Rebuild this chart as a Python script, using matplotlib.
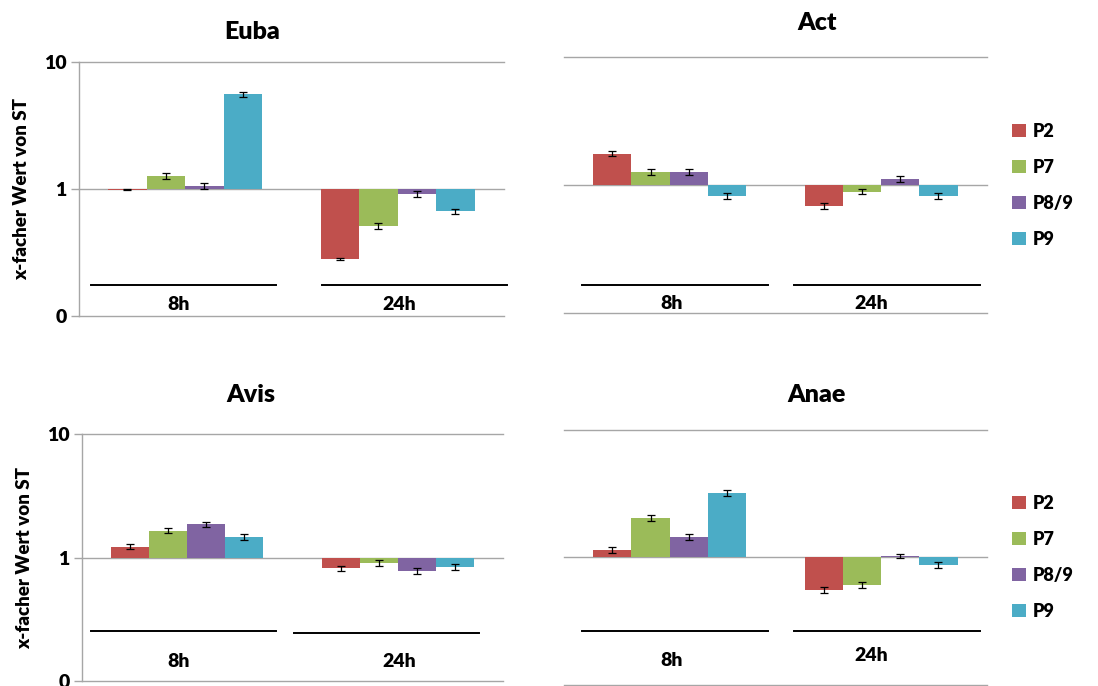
import numpy as np
import matplotlib
matplotlib.use("Agg")
import matplotlib.pyplot as plt
from matplotlib.patches import Patch

plt.rcParams['font.family'] = ['Lato', 'DejaVu Sans']
plt.rcParams['font.weight'] = 'heavy'

# ---------- data ----------
zeitpunkte = ['8h', '24h']
proben = ['P2', 'P7', 'P8/9', 'P9']
farben = ['#C0504D', '#9BBB59', '#8064A2', '#4BACC6']

# x-fach Werte relativ zu ST, je Probe: [8h, 24h]
euba = [[0.99, 0.28], [1.27, 0.51], [1.06, 0.91], [5.6, 0.67]]
euba_err = [[0.01, 0.006], [0.07, 0.027], [0.05, 0.05], [0.27, 0.03]]

act = [[1.76, 0.69], [1.26, 0.89], [1.26, 1.12], [0.82, 0.82]]
act_err = [[0.08, 0.037], [0.065, 0.04], [0.07, 0.065], [0.04, 0.04]]

avis = [[1.23, 0.82], [1.66, 0.906], [1.86, 0.785], [1.47, 0.84]]
avis_err = [[0.065, 0.043], [0.085, 0.05], [0.09, 0.043], [0.075, 0.04]]

anae = [[1.14, 0.556], [2.04, 0.61], [1.45, 1.02], [3.21, 0.87]]
anae_err = [[0.06, 0.03], [0.11, 0.033], [0.07, 0.04], [0.16, 0.045]]

ytick_werte = [0.1, 1, 10]
ytick_text = ['0', '1', '10']

# ---------- layout ----------
fig = plt.figure(figsize=(10.98, 6.86), dpi=100)

# [left, bottom, width, height], Titelposition, Klammern, Labelpositionen
panels = [
    dict(name='Euba', werte=euba, err=euba_err, rect=[0.0719, 0.5394, 0.387, 0.370],
         titel=(252, 32), achse=True, legende=False,
         klammern=[(0.028, 0.464, 0.122), (0.572, 1.007, 0.122)],
         labels=[(0.235, 0.047), (0.753, 0.047)]),
    dict(name='Act', werte=act, err=act_err, rect=[0.5137, 0.5437, 0.385, 0.373],
         titel=(817, 23), achse=False, legende=True,
         klammern=[(0.043, 0.482, 0.109), (0.544, 0.983, 0.109)],
         labels=[(0.255, 0.037), (0.726, 0.037)]),
    dict(name='Avis', werte=avis, err=avis_err, rect=[0.0747, 0.0073, 0.3834, 0.3596],
         titel=(251, 395), achse=True, legende=False,
         klammern=[(0.021, 0.461, 0.204), (0.504, 0.943, 0.195)],
         labels=[(0.230, 0.077), (0.753, 0.077)]),
    dict(name='Anae', werte=anae, err=anae_err, rect=[0.5137, 0.0015, 0.385, 0.372],
         titel=(817, 395), achse=False, legende=True,
         klammern=[(0.043, 0.482, 0.213), (0.544, 0.983, 0.213)],
         labels=[(0.255, 0.094), (0.726, 0.114)]),
]

W, H = 1098, 686
breite = 0.181
x = np.arange(len(zeitpunkte))
grau = '#A6A6A6'

for p in panels:
    ax = fig.add_axes(p['rect'])
    ax.set_yscale('log')
    ax.set_ylim(0.1, 10)
    ax.set_xlim(-0.5, len(zeitpunkte) - 0.5)

    for i, probe in enumerate(proben):
        v = np.array(p['werte'][i])
        e = np.array(p['err'][i])
        pos = x + (i - 1.5) * breite
        # Balken starten bei 1 (Wert von ST)
        ax.bar(pos, v - 1, bottom=1, width=breite, color=farben[i], zorder=2)
        ax.errorbar(pos, v, yerr=e, fmt='none', ecolor='black', elinewidth=0.9,
                    capsize=3, capthick=0.9, zorder=3)

    # Gitterlinien bei 0.1, 1 und 10
    for y in ytick_werte:
        ax.axhline(y, color=grau, lw=1, zorder=1, clip_on=False)

    for s in ['top', 'right', 'bottom']:
        ax.spines[s].set_visible(False)
    ax.set_xticks([])
    ax.minorticks_off()

    if p['achse']:
        ax.spines['left'].set_color(grau)
        ax.spines['left'].set_linewidth(1)
        ax.set_yticks(ytick_werte)
        ax.set_yticklabels(ytick_text, fontsize=14, fontweight='heavy')
        ax.tick_params(axis='y', length=6, color=grau, width=1, pad=3)
        ax.set_ylabel('x-facher Wert von ST', fontsize=13.5, fontweight='heavy', labelpad=10)
    else:
        ax.spines['left'].set_visible(False)
        ax.set_yticks([])

    # Klammern und Zeitpunkt-Beschriftungen
    for (x0, x1, yk), (xl, yl), zp in zip(p['klammern'], p['labels'], zeitpunkte):
        ax.plot([x0, x1], [yk, yk], transform=ax.transAxes, color='black', lw=1.4,
                clip_on=False, zorder=4)
        ax.text(xl, yl, zp, transform=ax.transAxes, ha='center', va='center',
                fontsize=14, fontweight='heavy')

    tx, ty = p['titel']
    fig.text(tx / W, 1 - ty / H, p['name'], ha='center', va='center',
             fontsize=18, fontweight='heavy')

    if p['legende']:
        handles = [Patch(facecolor=c, edgecolor='none') for c in farben]
        ax.legend(handles, proben, loc='center left', bbox_to_anchor=(1.06, 0.5),
                  frameon=False, handlelength=0.75, handleheight=0.75,
                  handletextpad=0.4, labelspacing=1.05, borderpad=0, borderaxespad=0,
                  prop={'weight': 'heavy', 'size': 13})

fig.savefig('out.png', dpi=100)
